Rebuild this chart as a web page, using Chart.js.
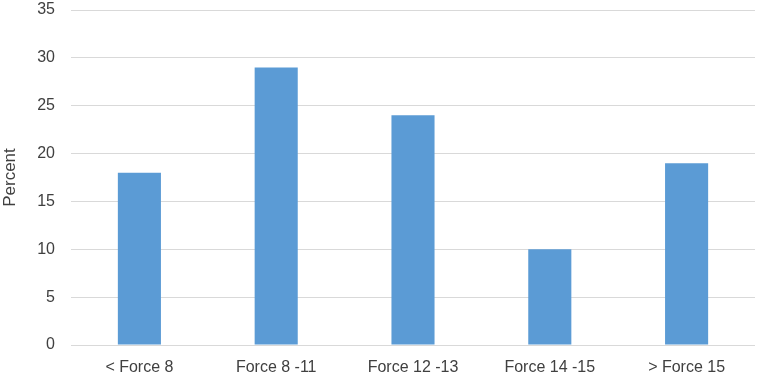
<!DOCTYPE html>
<html lang="en">
<head>
    <meta charset="UTF-8">
    <title>Percent by Force</title>
    <style>
        body {
            margin: 0;
            padding: 0;
            background-color: #fff;
        }

        #wrap {
            width: 759px;
            height: 377px;
        }
    </style>
    <script src="https://cdn.jsdelivr.net/npm/chart.js"></script>
</head>
<body>

<div id="wrap">
    <canvas id="forceChart" width="759" height="377"></canvas>
</div>

<script>
    const categories = ['< Force 8', 'Force 8 -11', 'Force 12 -13', 'Force 14 -15', '> Force 15'];
    const percentValues = [18, 29, 24, 10, 19];
    const yTicks = [0, 5, 10, 15, 20, 25, 30, 35];

    const textColor = '#404040';
    const gridColor = '#d9d9d9';
    const fontFamily = '"Liberation Sans", Arial, sans-serif';

    const ctx = document.getElementById('forceChart').getContext('2d');
    const forceChart = new Chart(ctx, {
        type: 'bar',
        data: {
            labels: categories,
            datasets: [{
                label: 'Percent',
                data: percentValues,
                backgroundColor: '#5b9bd5',
                categoryPercentage: 1.0,
                barPercentage: 0.315,
            }]
        },
        options: {
            responsive: false,
            animation: false,
            layout: {
                padding: { top: 10, right: 4, left: 0, bottom: 0 }
            },
            plugins: {
                legend: { display: false },
                tooltip: { enabled: false },
            },
            scales: {
                x: {
                    grid: { display: false, drawTicks: false },
                    border: { display: false },
                    ticks: {
                        color: textColor,
                        font: { family: fontFamily, size: 16 },
                        padding: 13,
                        maxRotation: 0,
                    },
                    afterFit: function (scale) {
                        scale.height = 32;
                        scale.paddingLeft = 0;
                        scale.paddingRight = 0;
                    },
                },
                y: {
                    min: 0,
                    max: 35,
                    afterBuildTicks: function (scale) {
                        scale.ticks = yTicks.map(function (v) { return { value: v }; });
                    },
                    grid: { color: gridColor, lineWidth: 1, drawTicks: false },
                    border: { display: false },
                    ticks: {
                        color: textColor,
                        font: { family: fontFamily, size: 16 },
                        padding: 16,
                    },
                    title: {
                        display: true,
                        text: 'Percent',
                        color: textColor,
                        font: { family: fontFamily, size: 17 },
                        padding: { top: 0, bottom: 0 },
                    },
                    afterFit: function (scale) {
                        scale.width = 71;
                        scale.paddingTop = 0;
                        scale.paddingBottom = 0;
                    },
                },
            },
        },
    });
</script>

</body>
</html>
